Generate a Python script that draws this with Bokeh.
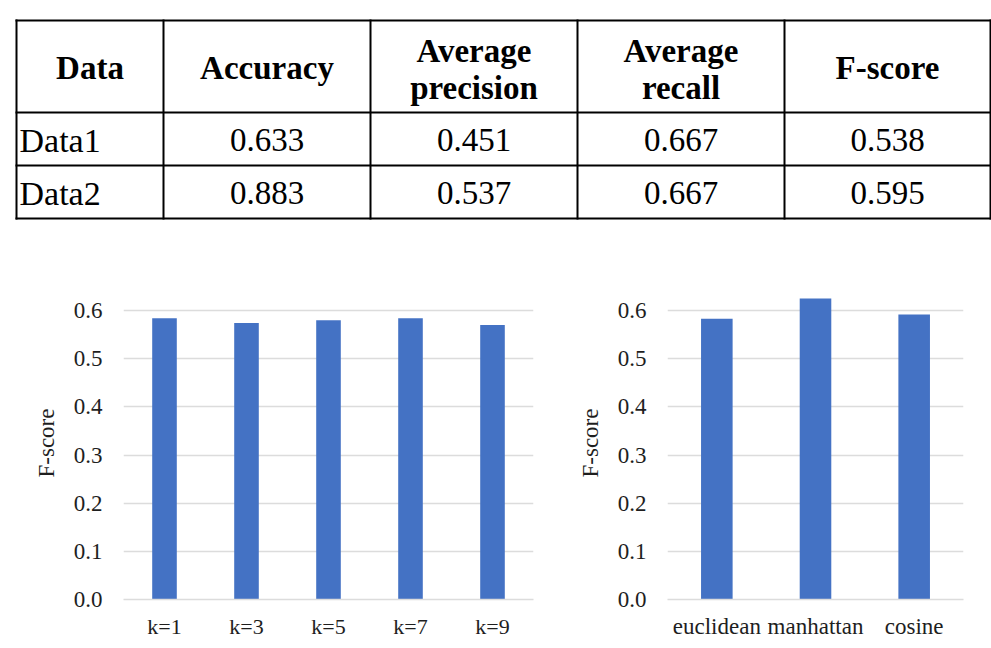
from bokeh.plotting import figure
from bokeh.layouts import column, row
from bokeh.models import Range1d, FactorRange, FixedTicker, PrintfTickFormatter, ColumnDataSource
from bokeh.core.properties import value
from bokeh.embed import file_html
from bokeh.resources import INLINE

# ---------------- data ----------------
table_headers = ["Data", "Accuracy", "Average\nprecision", "Average\nrecall", "F-score"]
table_rows = ["Data1", "Data2"]
accuracy = [0.633, 0.883]
avg_precision = [0.451, 0.537]
avg_recall = [0.667, 0.667]
f_score = [0.538, 0.595]

k_labels = ["k=1", "k=3", "k=5", "k=7", "k=9"]
k_fscore = [0.584, 0.574, 0.580, 0.584, 0.570]

dist_labels = ["euclidean", "manhattan", "cosine"]
dist_fscore = [0.583, 0.625, 0.592]

y_ticks = [0.0, 0.1, 0.2, 0.3, 0.4, 0.5, 0.6]
y_axis_title = "F-score"

FONT = "Liberation Serif"
GLYPH_FONT = '"Liberation Serif", serif'
BAR = "#4472C4"
GRID = "#dcdcdc"
TXT = "#1e1e1e"

# ---------------- table ----------------
col_edges = [16, 163, 370, 577, 784, 990]
row_edges = [20, 112, 165, 218]

tbl = figure(width=991, height=238, x_range=Range1d(0, 991), y_range=Range1d(238, 0),
             output_backend="svg", toolbar_location=None,
             min_border_left=0, min_border_right=0, min_border_top=0, min_border_bottom=0)
tbl.axis.visible = False
tbl.grid.visible = False
tbl.outline_line_color = None

hx0 = [col_edges[0]] * len(row_edges)
hx1 = [col_edges[-1]] * len(row_edges)
tbl.segment(x0=hx0, y0=row_edges, x1=hx1, y1=row_edges, line_color="black", line_width=2, line_cap="square")
vy0 = [row_edges[0]] * len(col_edges)
vy1 = [row_edges[-1]] * len(col_edges)
tbl.segment(x0=col_edges, y0=vy0, x1=col_edges, y1=vy1, line_color="black", line_width=2, line_cap="square")

centers = [(col_edges[i] + col_edges[i + 1]) / 2 for i in range(len(col_edges) - 1)]
hx, hy, ht = [], [], []
head_mid = (row_edges[0] + row_edges[1]) / 2 + 1
for i, h in enumerate(table_headers):
    lines = h.split("\n")
    if len(lines) == 1:
        hx.append(centers[i]); hy.append(head_mid); ht.append(lines[0])
    else:
        hx += [centers[i], centers[i]]
        hy += [head_mid - 17, head_mid + 20]
        ht += lines
tbl.text(x=hx, y=hy, text=ht, text_font=value(GLYPH_FONT), text_font_style="bold",
         text_font_size="33px", text_align="center", text_baseline="middle", text_color="black")

cols = [accuracy, avg_precision, avg_recall, f_score]
bx, by, bt = [], [], []
for r in range(len(table_rows)):
    ymid = (row_edges[r + 1] + row_edges[r + 2]) / 2 + 1
    for c, vals in enumerate(cols):
        bx.append(centers[c + 1]); by.append(ymid); bt.append(f"{vals[r]:.3f}")
tbl.text(x=bx, y=by, text=bt, text_font=value(GLYPH_FONT), text_font_size="33px",
         text_align="center", text_baseline="middle", text_color="black")
ry = [(row_edges[r + 1] + row_edges[r + 2]) / 2 + 1 for r in range(len(table_rows))]
tbl.text(x=[col_edges[0] + 3] * len(table_rows), y=ry, text=table_rows, text_font=value(GLYPH_FONT),
         text_font_size="34px", text_align="left", text_baseline="middle", text_color="black")


# ---------------- bar charts ----------------
def bar_chart(labels, vals, width, left, right, bar_w, xfont):
    p = figure(width=width, height=410, x_range=FactorRange(*labels, range_padding=0),
               y_range=Range1d(0, 0.65), output_backend="svg", toolbar_location=None,
               min_border_left=left, min_border_right=right, min_border_top=48, min_border_bottom=49)
    p.outline_line_color = None
    src = ColumnDataSource(dict(x=labels, top=vals))
    p.vbar(x="x", top="top", width=bar_w, source=src, fill_color=BAR, line_color=None)
    p.xgrid.visible = False
    p.ygrid.grid_line_color = GRID
    p.ygrid.grid_line_width = 1.5
    p.yaxis.ticker = FixedTicker(ticks=y_ticks)
    p.yaxis.formatter = PrintfTickFormatter(format="%.1f")
    p.yaxis.axis_label = y_axis_title
    p.yaxis.axis_label_text_font = FONT
    p.yaxis.axis_label_text_font_style = "normal"
    p.yaxis.axis_label_text_font_size = "23px"
    p.yaxis.axis_label_text_color = TXT
    p.yaxis.axis_label_standoff = 12
    for ax in (p.xaxis, p.yaxis):
        ax.major_tick_line_color = None
        ax.minor_tick_line_color = None
        ax.major_label_text_font = FONT
        ax.major_label_text_color = TXT
    p.yaxis.axis_line_color = None
    p.yaxis.major_label_text_font_size = "23px"
    p.yaxis.major_label_standoff = 15
    p.xaxis.axis_line_color = GRID
    p.xaxis.axis_line_width = 1.5
    p.xaxis.major_label_text_font_size = xfont
    p.xaxis.major_label_standoff = 8
    return p


left = bar_chart(k_labels, k_fscore, 560, 123, 27, 0.3, "22px")
right = bar_chart(dist_labels, dist_fscore, 431, 107, 28, 0.32, "23px")

layout = column(tbl, row(left, right))
open("out.html", "w").write(file_html(layout, INLINE))
